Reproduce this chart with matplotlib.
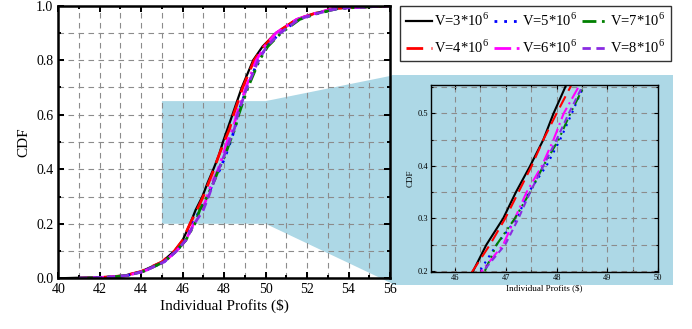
import matplotlib
matplotlib.use('Agg')
import matplotlib.pyplot as plt
from matplotlib.patches import Polygon, Rectangle
from matplotlib.ticker import MultipleLocator

plt.rcParams['font.family'] = ['Liberation Serif', 'DejaVu Serif']
plt.rcParams['mathtext.fontset'] = 'custom'
plt.rcParams['mathtext.rm'] = 'Liberation Serif'

# CDF levels shared by all series
cdf = [0, 0.005, 0.01, 0.025, 0.06, 0.1, 0.14, 0.2, 0.25, 0.3, 0.35, 0.4,
       0.45, 0.5, 0.55, 0.6, 0.7, 0.8, 0.85, 0.9, 0.95, 0.97, 0.99, 1.0]

# profit values ($) at each CDF level
v3 = [40.0, 42.5, 43.2, 44.0, 45.0, 45.6, 46.0, 46.36, 46.62, 46.95, 47.2, 47.48,
      47.74, 47.94, 48.17, 48.4, 48.85, 49.4, 49.85, 50.5, 51.5, 52.3, 53.3, 56.0]
v4 = [41.0, 42.5, 43.2, 44.0, 45.0, 45.6, 46.0, 46.35, 46.69, 46.99, 47.25, 47.51,
      47.74, 48.0, 48.27, 48.45, 48.9, 49.45, 49.9, 50.5, 51.5, 52.3, 53.3, 56.0]
v5 = [41.0, 42.6, 43.3, 44.1, 45.1, 45.7, 46.15, 46.49, 46.82, 47.22, 47.45, 47.8,
      48.07, 48.3, 48.52, 48.65, 49.1, 49.65, 50.05, 50.7, 51.6, 52.4, 53.5, 56.0]
v6 = [41.0, 42.6, 43.3, 44.1, 45.1, 45.7, 46.15, 46.53, 46.95, 47.18, 47.41, 47.71,
      47.94, 48.14, 48.43, 48.6, 49.05, 49.55, 49.95, 50.5, 51.5, 52.3, 53.3, 56.0]
v7 = [41.0, 42.6, 43.3, 44.1, 45.1, 45.7, 46.15, 46.59, 46.82, 47.18, 47.48, 47.74,
      48.04, 48.27, 48.53, 48.7, 49.15, 49.7, 50.1, 50.75, 51.65, 52.45, 53.5, 56.0]
v8 = [41.0, 42.6, 43.3, 44.1, 45.1, 45.7, 46.15, 46.56, 46.99, 47.25, 47.48, 47.74,
      48.0, 48.24, 48.5, 48.65, 49.1, 49.65, 50.05, 50.7, 51.6, 52.4, 53.5, 56.0]

labels = [r'V=3*10$^6$', r'V=4*10$^6$', r'V=5*10$^6$',
          r'V=6*10$^6$', r'V=7*10$^6$', r'V=8*10$^6$']
series = [v3, v4, v5, v6, v7, v8]
colors = ['black', 'red', 'blue', 'magenta', 'green', '#8a2be2']
styles = ['-', (0, (6, 3)), (0, (1, 2.5)), (0, (6, 2, 1, 2)),
          (0, (5, 2, 1, 2, 1, 2)), (0, (3, 2))]
widths = [1.6, 2, 2, 2, 2, 2]

shade = '#add8e6'

fig = plt.figure(figsize=(6.92, 3.29), dpi=100)
W, H = 692, 329

ax = fig.add_axes([58.3 / W, 1 - 278.3 / H, 331.7 / W, 272.6 / H])
ax.set_facecolor('none')


def style_axes(a, lw):
    a.tick_params(which='both', direction='in', top=True, right=True, width=lw * 0.8)
    a.tick_params(which='major', length=4)
    a.tick_params(which='minor', length=2.5)
    a.grid(True, which='both', linestyle=(0, (5, 4)), color='#8c8c8c', linewidth=0.8)
    a.set_axisbelow(True)
    for s in a.spines.values():
        s.set_linewidth(lw)


for x, lab, c, ls, lw in zip(series, labels, colors, styles, widths):
    ax.plot(x, cdf, color=c, linestyle=ls, linewidth=lw, label=lab)

ax.set_xlim(40, 56)
ax.set_ylim(0, 1)
ax.xaxis.set_major_locator(MultipleLocator(2))
ax.xaxis.set_minor_locator(MultipleLocator(1))
ax.yaxis.set_major_locator(MultipleLocator(0.2))
ax.yaxis.set_minor_locator(MultipleLocator(0.1))
ax.yaxis.set_major_formatter(lambda v, p: f'{v:.1f}')
style_axes(ax, 1.8)
ax.tick_params(labelsize=10)
ax.set_xlabel('Individual Profits ($)', fontsize=11, labelpad=2)
ax.set_ylabel('CDF', fontsize=11, labelpad=4)

# inset background and connecting shade
ix0, ix1, iy0, iy1 = 392 / W, 673 / W, 1 - 285 / H, 1 - 75 / H
to_fig = ax.transData + fig.transFigure.inverted()
p1 = to_fig.transform((45, 0.2))
p2 = to_fig.transform((45, 0.65))
p3 = to_fig.transform((50, 0.65))
p4 = to_fig.transform((50, 0.2))
poly = Polygon([p1, p2, p3, (ix0 + 3 / W, iy1), (ix0 + 3 / W, iy0), p4],
               closed=True, facecolor=shade, edgecolor='none',
               transform=fig.transFigure, zorder=-1)
fig.patches.append(poly)
fig.patches.append(Rectangle((ix0, iy0), ix1 - ix0, iy1 - iy0, facecolor=shade,
                             edgecolor='none', transform=fig.transFigure, zorder=-1))

leg = fig.legend(loc='upper left', bbox_to_anchor=(400 / W, 1 - 5.7 / H), ncol=3,
                 fontsize=10.5, frameon=True, fancybox=False, edgecolor='black',
                 borderaxespad=0, handlelength=1.8, handletextpad=0.15,
                 columnspacing=0.3, borderpad=0.4, labelspacing=0.65)
leg.get_frame().set_linewidth(1.0)

# inset
axi = fig.add_axes([431 / W, 1 - 271.7 / H, 227.3 / W, 186.7 / H])
axi.set_facecolor(shade)
for x, c, ls in zip(series, colors, styles):
    axi.plot(x, cdf, color=c, linestyle=ls, linewidth=1.5)
axi.set_xlim(45.53, 50)
axi.set_ylim(0.1985, 0.554)
axi.xaxis.set_major_locator(MultipleLocator(1))
axi.xaxis.set_minor_locator(MultipleLocator(0.5))
axi.yaxis.set_major_locator(MultipleLocator(0.1))
axi.yaxis.set_minor_locator(MultipleLocator(0.05))
style_axes(axi, 1.0)
axi.tick_params(which='major', length=3)
axi.tick_params(which='minor', length=1.5)
axi.tick_params(labelsize=6, pad=2)
axi.set_xlabel('Individual Profits ($)', fontsize=6.5, labelpad=1)
axi.set_ylabel('CDF', fontsize=6.5, labelpad=2)

fig.savefig('out.png', dpi=100)
